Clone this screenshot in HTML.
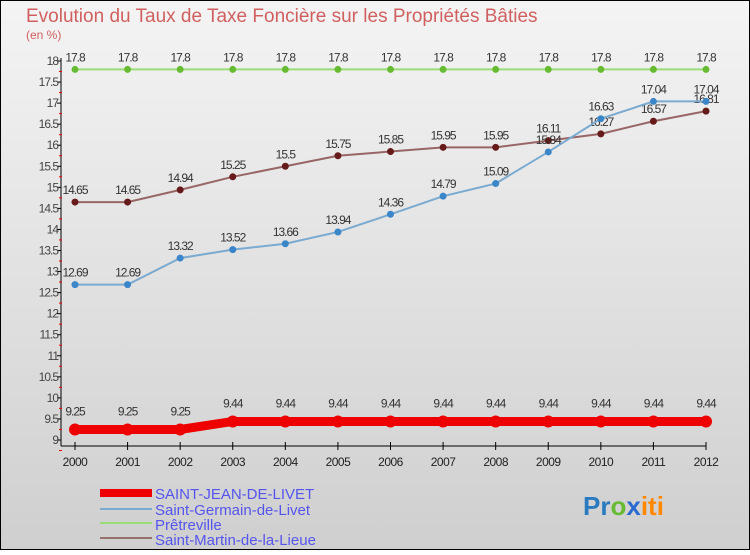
<!DOCTYPE html>
<html><head><meta charset="utf-8"><style>
body{margin:0;width:750px;height:550px;overflow:hidden;font-family:"Liberation Sans",sans-serif}
svg text{font-family:"Liberation Sans",sans-serif}
</style></head><body>
<svg id="c" width="750" height="550" xmlns="http://www.w3.org/2000/svg">
<defs><linearGradient id="bg" x1="0" y1="0" x2="0" y2="1"><stop offset="0" stop-color="#f4f4f4"/><stop offset="1" stop-color="#cfcfcf"/></linearGradient></defs>
<rect x="0.5" y="0.5" width="749" height="549" fill="url(#bg)" stroke="#000"/>
<text x="26" y="22" font-size="19" fill="#d06060">Evolution du Taux de Taxe Foncière sur les Propriétés Bâties</text>
<text x="26" y="39" font-size="12" fill="#d06060">(en %)</text>
<g id="axes"></g><g id="series"></g>
<g>
<rect x="100" y="489" width="52" height="8" fill="#e00"/>
<text x="155" y="499" font-size="15" fill="#5555ee">SAINT-JEAN-DE-LIVET</text>
<rect x="100" y="508" width="52" height="2" fill="#7aaad0"/>
<text x="155" y="515" font-size="15" fill="#5555ee">Saint-Germain-de-Livet</text>
<rect x="100" y="522" width="52" height="2" fill="#99dd77"/>
<text x="155" y="530" font-size="15" fill="#5555ee">Prêtreville</text>
<rect x="100" y="537" width="52" height="2" fill="#997070"/>
<text x="155" y="545" font-size="15" fill="#5555ee">Saint-Martin-de-la-Lieue</text>
</g>
<text x="583" y="515" font-size="26" font-weight="bold"><tspan fill="#2a7ac0">Pr</tspan><tspan fill="#66bb33">o</tspan><tspan fill="#2a6ad0">x</tspan><tspan fill="#ff8800">iti</tspan></text>
</svg>
<script>
const years=[2000,2001,2002,2003,2004,2005,2006,2007,2008,2009,2010,2011,2012];
const sjValues=[9.25,9.25,9.25,9.44,9.44,9.44,9.44,9.44,9.44,9.44,9.44,9.44,9.44];
const sgValues=[12.69,12.69,13.32,13.52,13.66,13.94,14.36,14.79,15.09,15.84,16.63,17.04,17.04];
const prValues=[17.8,17.8,17.8,17.8,17.8,17.8,17.8,17.8,17.8,17.8,17.8,17.8,17.8];
const smValues=[14.65,14.65,14.94,15.25,15.5,15.75,15.85,15.95,15.95,16.11,16.27,16.57,16.81];
const yTicks=[9,9.5,10,10.5,11,11.5,12,12.5,13,13.5,14,14.5,15,15.5,16,16.5,17,17.5,18];
const NS="http://www.w3.org/2000/svg";
const X=i=>75+i*(706-75)/(years.length-1);
const Y=v=>440-(v-9)*(440-61)/9;
function mk(t,a,p){const e=document.createElementNS(NS,t);for(const k in a)e.setAttribute(k,a[k]);p.appendChild(e);return e;}
const ax=document.getElementById('axes');
let l=mk('line',{x1:61,y1:58,x2:61,y2:446,stroke:'#000'},ax);


l=mk('line',{x1:61,y1:446,x2:706,y2:446,stroke:'#000'},ax);


yTicks.forEach(v=>{const y=Y(v);
 mk('line',{x1:57,y1:y,x2:61,y2:y,stroke:'#000'},ax);
 mk('line',{x1:59,y1:y+10.5,x2:62,y2:y+10.5,stroke:'#e00'},ax);
 const t=mk('text',{x:58,y:y+4,'font-size':12,'text-anchor':'end',fill:'#444','letter-spacing':'-1'},ax);t.textContent=v;
 
 });
years.forEach((yr,i)=>{const x=X(i);
 mk('line',{x1:x,y1:442,x2:x,y2:450,stroke:'#000'},ax);
 const t=mk('text',{x:x,y:466,'font-size':12,'text-anchor':'middle',fill:'#222','letter-spacing':'-0.5'},ax);t.textContent=yr;
 
 });
const sr=document.getElementById('series');
function series(vals,name,lc,pc,w,r,lblOff){
 const g=mk('g',{},sr);
 
 
 const pl=mk('polyline',{points:vals.map((v,i)=>X(i)+','+Y(v)).join(' '),fill:'none',stroke:lc,'stroke-width':w},g);
 
 
 vals.forEach((v,i)=>{const c=mk('circle',{cx:X(i),cy:Y(v),r:r,fill:pc},g);
  
  
  const t=mk('text',{x:X(i),y:Y(v)-lblOff,'font-size':12,'text-anchor':'middle',fill:'#333','letter-spacing':'-1'},g);t.textContent=v;
  
  });
}
series(prValues,'pretreville-series','#99dd77','#66bb33',2,3.5,8);
series(smValues,'saint-martin-series','#996666','#661a1a',2,3.5,8);
series(sgValues,'saint-germain-series','#7aaad0','#3a86c8',2,3.5,8);
series(sjValues,'saint-jean-series','#ee0000','#ee0000',9,6,14);
</script>
</body></html>
